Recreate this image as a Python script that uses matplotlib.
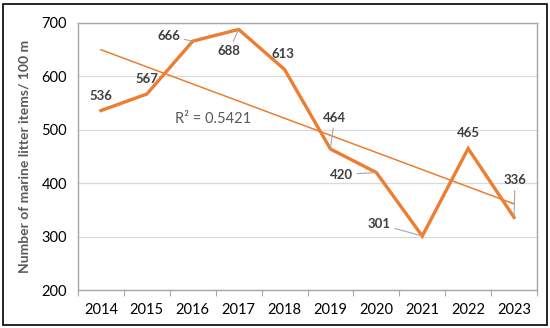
import matplotlib
matplotlib.use("Agg")
import matplotlib.pyplot as plt
import numpy as np

years = ["2014", "2015", "2016", "2017", "2018", "2019", "2020", "2021", "2022", "2023"]
litter = [536, 567, 666, 688, 613, 464, 420, 301, 465, 336]
r2_text = "R² = 0.5421"
y_ticks = [200, 300, 400, 500, 600, 700]
y_label = "Number of marine litter items/ 100 m"

# label offsets in pixels (dx, dy) and whether a leader line is drawn
label_offsets = [(0, 15), (0, 15), (-24, 5), (-10, -22), (-2, 15),
                 (4, 31), (-35, -2), (-43, 12), (0, 15), (1, 37)]
leaders = [False, False, True, True, False, True, True, True, False, True]

plt.rcParams['font.family'] = ['Lato', 'DejaVu Sans']
orange = "#ED7D31"

fig = plt.figure(figsize=(5.5, 3.28), dpi=100)
ax = fig.add_axes([78/550, 1-290/328, (537-78)/550, (290-23)/328])

x = np.arange(len(years))
ax.plot(x, litter, color=orange, lw=2.4, solid_joinstyle='miter', zorder=3)

coef = np.polyfit(x, litter, 1)
ax.plot(x, np.polyval(coef, x), color=orange, lw=1.1, zorder=2)

ax.set_xlim(-0.5, len(years) - 0.5)
ax.set_ylim(200, 700)
ax.set_yticks(y_ticks)
ax.tick_params(axis='y', length=0, labelsize=10.5, pad=8)
ax.grid(axis='y', color='#D9D9D9', lw=0.9)
ax.set_axisbelow(True)

ax.set_xticks(np.arange(-0.5, len(years), 1.0))
ax.set_xticklabels([])
ax.set_xticks(x, minor=True)
ax.set_xticklabels(years, minor=True, fontsize=10.5)
ax.tick_params(axis='x', which='major', length=4, color='#A6A6A6', direction='out')
ax.tick_params(axis='x', which='minor', length=0, pad=9)

for s in ax.spines.values():
    s.set_color('#A6A6A6')
    s.set_linewidth(1.0)

ax.set_ylabel(y_label, fontsize=10, color='#595959', fontweight='bold', labelpad=8)

for i, v in enumerate(litter):
    dx, dy = label_offsets[i]
    kw = {}
    if leaders[i]:
        kw['arrowprops'] = dict(arrowstyle='-', color='#A6A6A6', lw=0.8,
                                shrinkA=1, shrinkB=0)
    ax.annotate(str(v), xy=(x[i], v), xytext=(dx, dy), textcoords='offset pixels',
                ha='center', va='center', fontsize=9.5, fontweight='bold',
                color='#404040', **kw)

ax.text(2.45, 520, r2_text, fontsize=10.5, color='#595959', ha='center', va='center')

fig.patches.append(plt.Rectangle((3/550, 3/328), 544/550, 321/328, transform=fig.transFigure,
                                 fill=False, edgecolor='#000000', lw=1.2))

fig.savefig("out.png", dpi=100)
